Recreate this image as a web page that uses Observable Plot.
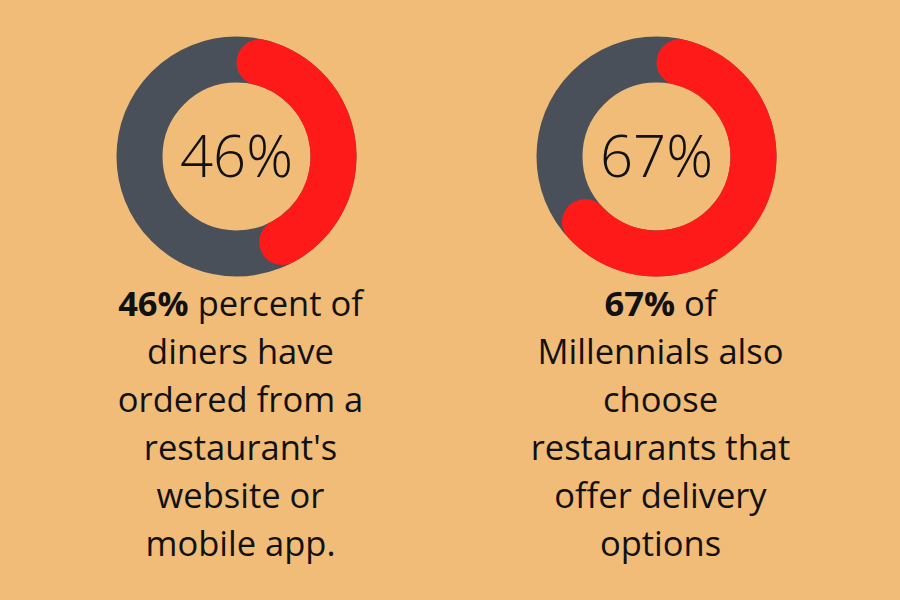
<!DOCTYPE html>
<html>
<head>
<meta charset="utf-8">
<script src="https://cdn.jsdelivr.net/npm/d3@7"></script>
<script src="https://cdn.jsdelivr.net/npm/@observablehq/plot@0.6"></script>
<style>
  html, body { margin: 0; padding: 0; background: #F0BC78; }
  #chart { width: 900px; height: 600px; }
</style>
</head>
<body>
<div id="chart"></div>
<script>
// ---- data ----
const stats = ["46%", "67%"];
const values = [46, 67];
const boldLeads = ["46%", "67%"];
const captions = [
  "46% percent of\ndiners have\nordered from a\nrestaurant's\nwebsite or\nmobile app.",
  "67% of\nMillennials also\nchoose\nrestaurants that\noffer delivery\noptions"
];

// ---- styles ----
const BG = "#F0BC78";
const TRACK = "#4A5059";
const ARC = "#FF1A1A";
const OUTER = 120, THICK = 46;
const CY = 156;

const rows = stats.map((s, i) => ({stat: s, value: values[i], caption: captions[i], lead: boldLeads[i]}));

function arcSymbol(value) {
  return {
    draw(context, size) {
      const ro = Math.sqrt(size / Math.PI);
      d3.arc()
        .innerRadius(ro - THICK)
        .outerRadius(ro)
        .startAngle(0)
        .endAngle(2 * Math.PI * value / 100)
        .cornerRadius(THICK / 2)
        .context(context)();
    }
  };
}

const capFont = 34.5;

const chart = Plot.plot({
  width: 900,
  height: 600,
  margin: 0,
  x: {type: "band", domain: stats, range: [26, 866], padding: 0, axis: null},
  y: {domain: [0, 600], range: [0, 600], axis: null},
  style: {background: BG, fontFamily: "'Open Sans', sans-serif", color: "#111"},
  marks: [
    Plot.dot(rows, {x: "stat", y: () => CY, r: OUTER - THICK / 2, stroke: TRACK, strokeWidth: THICK, fill: "none"}),
    ...rows.map(d => Plot.dot([d], {x: "stat", y: () => CY, r: OUTER, symbol: arcSymbol(d.value), fill: ARC, stroke: "none"})),
    Plot.text(rows, {x: "stat", y: () => CY, text: "stat", fontSize: 58, fontWeight: 300, fill: "#111", dy: 2, fontFamily: "'Open Sans', sans-serif"}),
    Plot.text(rows, {x: "stat", y: () => 306 - 0.71 * capFont, text: "caption", fontSize: capFont, lineAnchor: "top", lineHeight: 48 / capFont, dx: 4, fill: "#111", fontFamily: "'Open Sans', sans-serif"})
  ]
});

document.getElementById("chart").appendChild(chart);

// bold lead in first caption line
const ns = "http://www.w3.org/2000/svg";
chart.querySelectorAll("text").forEach((t) => {
  const lines = t.querySelectorAll("tspan");
  const first = lines.length ? lines[0] : null;
  if (!first) return;
  const full = first.textContent;
  const lead = boldLeads.find(l => full.startsWith(l + " "));
  if (!lead) return;
  first.textContent = "";
  const b = document.createElementNS(ns, "tspan");
  b.setAttribute("font-weight", "bold");
  b.textContent = lead;
  const rest = document.createElementNS(ns, "tspan");
  rest.textContent = full.slice(lead.length);
  first.appendChild(b);
  first.appendChild(rest);
});
</script>
</body>
</html>
